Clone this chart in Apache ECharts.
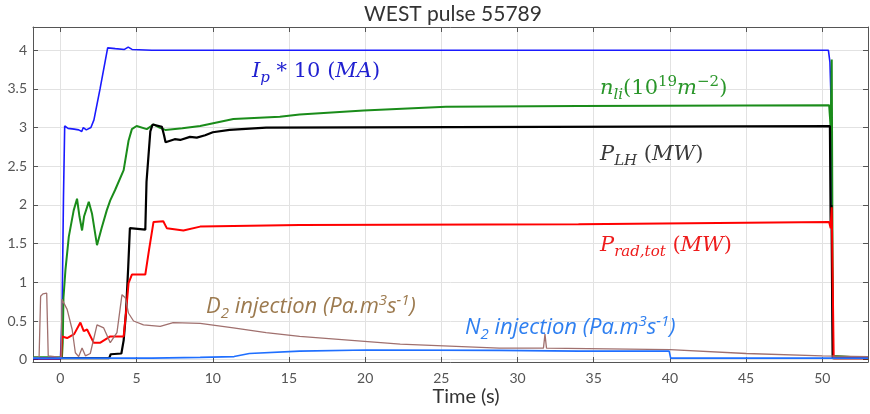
<!DOCTYPE html>
<html>
<head>
<meta charset="utf-8">
<title>WEST pulse 55789</title>
<script src="https://cdn.jsdelivr.net/npm/echarts@6/dist/echarts.min.js"></script>
<style>
  html, body { margin: 0; padding: 0; background: #fff; }
  #main { width: 870px; height: 414px; }
</style>
</head>
<body>
<div id="main"></div>
<script>
// 读图得到的数据 [时间 s, 值]
var ipData = [[-1.8,0.01],[0.0,0.01],[0.08,0.4],[0.12,0.8],[0.2,2.1],[0.28,3.02],[0.5,2.99],[0.9,2.98],
  [1.2,2.97],[1.4,2.95],[1.5,3.0],[1.7,2.97],[2.0,3.0],[2.2,3.1],[2.6,3.5],[3.1,4.03],[3.6,4.02],
  [4.2,4.01],[4.45,4.04],[4.7,4.01],[6,4.0],[50.4,4.0],[50.5,3.85],[50.6,3.2],[50.65,1.0],[50.7,0.02],[53,0.02]];

var nliData = [[-1.8,0.03],[0.1,0.03],[0.15,0.22],[0.2,0.8],[0.33,1.16],[0.55,1.59],[0.87,1.93],[1.09,2.08],
  [1.25,1.85],[1.42,1.67],[1.55,1.85],[1.86,2.04],[2.07,1.89],[2.4,1.48],[2.7,1.7],[3.04,1.93],[3.27,2.06],
  [3.58,2.19],[4.15,2.45],[4.47,2.83],[4.69,2.98],[5.0,3.02],[5.67,2.98],[6.11,3.04],[6.5,3.0],[6.88,2.97],
  [8,2.99],[9.17,3.02],[11.35,3.11],[14.4,3.14],[15.7,3.17],[19.9,3.22],[25.3,3.27],[34,3.28],[50.45,3.29],
  [50.55,3.0],[50.62,3.88],[50.7,0.05],[53,0.02]];

var plhData = [[-1.8,0.02],[3.2,0.02],[3.3,0.07],[4.0,0.08],[4.15,0.25],[4.3,0.6],[4.45,1.2],[4.56,1.7],
  [5.57,1.68],[5.65,2.3],[5.9,2.95],[6.05,3.04],[6.66,3.01],[6.8,2.9],[6.9,2.81],[7.5,2.85],[7.86,2.84],
  [8.5,2.88],[8.95,2.87],[9.5,2.9],[10.0,2.94],[11.1,2.97],[13.5,3.0],[50.5,3.02],[50.55,1.75],[50.6,2.0],
  [50.68,0.02],[53,0.02]];

var pradData = [[-1.8,0.02],[0.05,0.02],[0.1,0.3],[0.44,0.28],[0.9,0.33],[1.31,0.48],[1.53,0.37],[1.75,0.39],
  [2.18,0.22],[2.62,0.22],[3.27,0.3],[4.15,0.3],[4.3,0.6],[4.47,0.99],[4.69,1.1],[5.57,1.1],[5.8,1.4],
  [6.11,1.78],[6.75,1.79],[6.98,1.7],[8.07,1.67],[9.17,1.72],[15.7,1.74],[34,1.75],[50.45,1.78],[50.55,1.7],
  [50.62,1.97],[50.75,0.02],[53,0.02]];

var d2Data = [[-1.8,0.03],[-1.4,0.03],[-1.3,0.82],[-1.15,0.85],[-0.9,0.86],[-0.8,0.05],[0.05,0.03],[0.1,0.78],
  [0.44,0.65],[0.77,0.39],[0.98,0.09],[1.2,0.04],[1.42,0.15],[1.64,0.05],[1.96,0.08],[2.4,0.45],[2.84,0.41],
  [3.27,0.22],[3.71,0.35],[4.04,0.84],[4.26,0.8],[4.47,0.6],[4.8,0.5],[5.45,0.45],[6.55,0.43],[7.4,0.48],
  [9.17,0.47],[11.35,0.41],[13.5,0.35],[15.7,0.3],[22.3,0.2],[28.8,0.15],[31.7,0.15],[31.8,0.33],[31.9,0.15],
  [40,0.13],[45,0.08],[50,0.05],[53,0.04]];

var n2Data = [[-1.8,0.02],[6,0.02],[9.17,0.03],[11.4,0.04],[12.4,0.08],[15.7,0.11],[20.1,0.125],[28.8,0.12],
  [34,0.11],[39.95,0.11],[40.05,0.02],[45,0.02],[53,0.02]];

var seriesNames = ['Ip*10', 'nli', 'PLH', 'Prad,tot', 'D2 injection', 'N2 injection'];
var seriesColors = ['#1a1aff', '#1a8c1a', '#000000', '#ff0000', '#a0706e', '#1f6fff'];

var myChart = echarts.init(document.getElementById('main'), null, { renderer: 'canvas' });

var axisColor = '#555';
var mathFont = 'DejaVu Serif';
var sansFont = 'Lato';
var labelFont = 'Open Sans';

// 富文本：上下标
function mathRich(color) {
    return {
        i: { fontFamily: mathFont, fontStyle: 'italic', fontSize: 21, fill: color, lineHeight: 28 },
        n: { fontFamily: mathFont, fontSize: 21, fill: color, lineHeight: 28 },
        sub: { fontFamily: mathFont, fontStyle: 'italic', fontSize: 15, fill: color, lineHeight: 14, verticalAlign: 'bottom' },
        sup: { fontFamily: mathFont, fontSize: 15, fill: color, lineHeight: 14, verticalAlign: 'top' }
    };
}
function sansRich(color) {
    return {
        t: { fontFamily: labelFont, fontStyle: 'italic', fontSize: 22, fill: color, lineHeight: 28 },
        sub: { fontFamily: labelFont, fontStyle: 'italic', fontSize: 15, fill: color, lineHeight: 13, verticalAlign: 'bottom' },
        sup: { fontFamily: labelFont, fontStyle: 'italic', fontSize: 15, fill: color, lineHeight: 15, verticalAlign: 'top' }
    };
}

function label(x, y, text, rich) {
    return {
        type: 'text', x: x, y: y, z: 100,
        style: { text: text, rich: rich, verticalAlign: 'middle', align: 'left' }
    };
}

var option = {
    animation: false,
    backgroundColor: '#fff',
    grid: { left: 33, right: 2, top: 27, bottom: 52, outerBoundsMode: 'none' },
    xAxis: [{
        type: 'value', min: -1.8, max: 53, splitNumber: 11,
        axisLine: { show: true, onZero: false, lineStyle: { color: axisColor } },
        axisTick: { show: true, inside: true, length: 5, lineStyle: { color: axisColor } },
        axisLabel: { showMinLabel: false, showMaxLabel: false, color: '#555', fontSize: 14, fontFamily: sansFont, margin: 9 },
        splitLine: { show: true, lineStyle: { color: '#e2e2e2' } }
    }, {
        type: 'value', position: 'top', min: -1.8, max: 53, splitNumber: 11,
        axisLine: { show: true, onZero: false, lineStyle: { color: axisColor } },
        axisTick: { show: true, inside: true, length: 5, lineStyle: { color: axisColor } },
        axisLabel: { show: false }, splitLine: { show: false }
    }],
    yAxis: [{
        type: 'value', min: -0.03, max: 4.3, splitNumber: 9,
        axisLine: { show: true, onZero: false, lineStyle: { color: axisColor } },
        axisTick: { show: true, inside: true, length: 5, lineStyle: { color: axisColor } },
        axisLabel: { showMinLabel: false, showMaxLabel: false, color: '#555', fontSize: 14, fontFamily: sansFont, margin: 6 },
        splitLine: { show: true, lineStyle: { color: '#e2e2e2' } }
    }, {
        type: 'value', position: 'right', min: -0.03, max: 4.3, splitNumber: 9,
        axisLine: { show: true, onZero: false, lineStyle: { color: axisColor } },
        axisTick: { show: true, inside: true, length: 5, lineStyle: { color: axisColor } },
        axisLabel: { show: false }, splitLine: { show: false }
    }],
    series: [
        { name: seriesNames[0], type: 'line', data: ipData, showSymbol: false, lineStyle: { width: 1.6, color: seriesColors[0] } },
        { name: seriesNames[1], type: 'line', data: nliData, showSymbol: false, lineStyle: { width: 2, color: seriesColors[1] } },
        { name: seriesNames[2], type: 'line', data: plhData, showSymbol: false, lineStyle: { width: 2.2, color: seriesColors[2] } },
        { name: seriesNames[3], type: 'line', data: pradData, showSymbol: false, lineStyle: { width: 2, color: seriesColors[3] } },
        { name: seriesNames[4], type: 'line', data: d2Data, showSymbol: false, lineStyle: { width: 1.3, color: seriesColors[4] } },
        { name: seriesNames[5], type: 'line', data: n2Data, showSymbol: false, lineStyle: { width: 1.6, color: seriesColors[5] } }
    ],
    graphic: [
        { type: 'text', x: 453, y: 14, style: { text: 'WEST pulse 55789', fontFamily: sansFont, fontSize: 21, fill: '#333', align: 'center', verticalAlign: 'middle' } },
        { type: 'text', x: 466, y: 397, style: { text: 'Time (s)', fontFamily: sansFont, fontSize: 20, fill: '#333', align: 'center', verticalAlign: 'middle' } },
        label(252, 72, '{i|I}{sub|p}{n| * 10 (}{i|MA}{n|)}', mathRich('#2020d0')),
        label(600, 89, '{i|n}{sub|li}{n|(10}{sup|19}{i|m}{sup|−2}{n|)}', mathRich('#2a962a')),
        label(600, 155, '{i|P}{sub|LH}{n| (}{i|MW}{n|)}', mathRich('#3a3a3a')),
        label(600, 246, '{i|P}{sub|rad,tot}{n| (}{i|MW}{n|)}', mathRich('#ee1c1c')),
        label(206, 307, '{t|D}{sub|2}{t| injection (Pa.m}{sup|3}{t|s}{sup|-1}{t|)}', sansRich('#9c7a4f')),
        label(465, 328, '{t|N}{sub|2}{t| injection (Pa.m}{sup|3}{t|s}{sup|-1}{t|)}', sansRich('#2e7ff0'))
    ]
};

myChart.setOption(option);
window.addEventListener('resize', function () {
    myChart.resize();
});
</script>
</body>
</html>
